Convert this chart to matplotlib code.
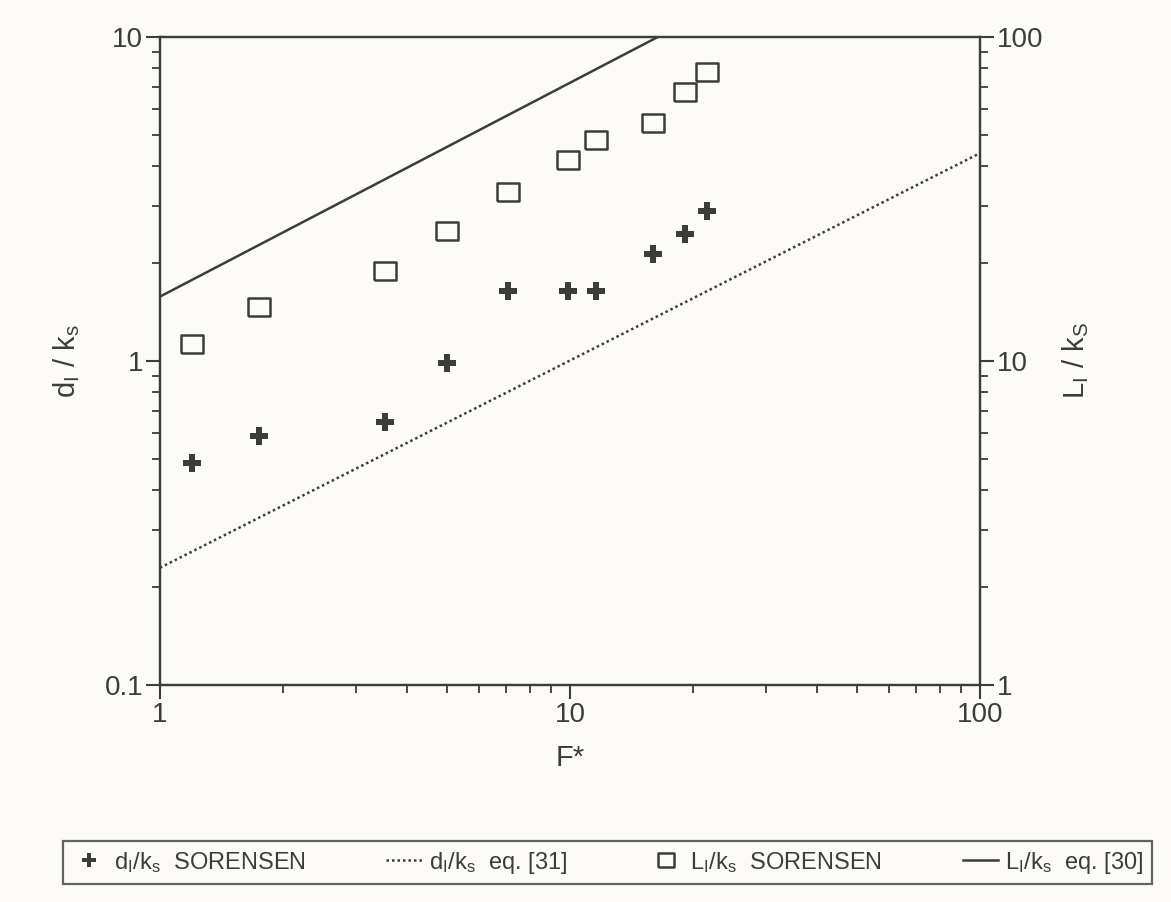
import numpy as np
import matplotlib
matplotlib.use("Agg")
import matplotlib.pyplot as plt
from matplotlib.ticker import FixedLocator, FixedFormatter, LogLocator, NullFormatter

plt.rcParams['font.family'] = ['Liberation Sans', 'DejaVu Sans']
plt.rcParams['mathtext.default'] = 'regular'

# Sorensen data
f_star = [1.20, 1.74, 3.54, 5.01, 7.06, 9.89, 11.6, 15.9, 19.1, 21.6]
d_ks = [0.485, 0.585, 0.650, 0.985, 1.65, 1.65, 1.65, 2.14, 2.47, 2.91]
l_ks = [11.3, 14.7, 19.0, 25.1, 33.3, 41.6, 48.0, 54.3, 67.8, 78.2]

# equation lines (end points)
eq31_f = [1.0, 100.0]
eq31_d = [0.23, 4.38]
eq30_f = [1.0, 100.0]
eq30_l = [15.8, 15.8 * 100 ** 0.66]

ink = '#3c3c3c'
paper = '#fcfbf7'

fig = plt.figure(figsize=(11.71, 9.02), dpi=100, facecolor=paper)
ax = fig.add_axes([0.1366, 0.2406, 0.7003, 0.7184])
ax.set_facecolor(paper)
ax2 = ax.twinx()

rect = [(-1.25, -1), (1.25, -1), (1.25, 1), (-1.25, 1), (-1.25, -1)]

h1, = ax.plot(f_star, d_ks, linestyle='none', marker='P', markersize=13,
              color=ink, markeredgewidth=0, label='d$_I$/k$_s$  SORENSEN')
h2, = ax.plot(eq31_f, eq31_d, linestyle=(0, (1, 1.2)), color=ink, linewidth=1.8,
              label='d$_I$/k$_s$  eq. [31]')
h3, = ax2.plot(f_star, l_ks, linestyle='none', marker=rect, markersize=16,
               markerfacecolor='none', markeredgecolor=ink, markeredgewidth=1.8,
               label='L$_I$/k$_s$  SORENSEN')
h4, = ax2.plot(eq30_f, eq30_l, color=ink, linewidth=1.8, label='L$_I$/k$_s$  eq. [30]')

ax.set_xscale('log')
ax.set_yscale('log')
ax2.set_yscale('log')
ax.set_xlim(1, 100)
ax.set_ylim(0.1, 10)
ax2.set_ylim(1, 100)

ax.xaxis.set_major_locator(FixedLocator([1, 10, 100]))
ax.xaxis.set_major_formatter(FixedFormatter(['1', '10', '100']))
ax.yaxis.set_major_locator(FixedLocator([0.1, 1, 10]))
ax.yaxis.set_major_formatter(FixedFormatter(['0.1', '1', '10']))
ax2.yaxis.set_major_locator(FixedLocator([1, 10, 100]))
ax2.yaxis.set_major_formatter(FixedFormatter(['1', '10', '100']))
for a in (ax.xaxis, ax.yaxis, ax2.yaxis):
    a.set_minor_locator(LogLocator(base=10, subs=np.arange(2, 10)))
    a.set_minor_formatter(NullFormatter())

for a in (ax, ax2):
    a.tick_params(which='major', direction='out', length=10, width=1.5,
                  color=ink, labelsize=20, labelcolor=ink, pad=2)
    a.tick_params(which='minor', direction='out', length=6, width=1.3, color=ink)
    for s in a.spines.values():
        s.set_color(ink)
        s.set_linewidth(1.6)
ax.tick_params(top=False, right=False)

ax.set_xlabel('F*', fontsize=21, color=ink, labelpad=12)
ax.set_ylabel('d$_I$ / k$_s$', fontsize=21, color=ink, labelpad=16)
ax2.set_ylabel('L$_I$ / k$_S$', fontsize=21, color=ink, labelpad=12, rotation=90)

leg = fig.legend(handles=[h1, h2, h3, h4], loc='lower left', ncol=4, mode='expand',
                 bbox_to_anchor=(0.0538, 0.02, 0.93, 0.05), fontsize=17,
                 frameon=True, fancybox=False, edgecolor=ink, facecolor=paper,
                 handlelength=1.5, handletextpad=0.3, columnspacing=1.0,
                 borderaxespad=0, borderpad=0.35, markerscale=0.75)
leg.get_frame().set_linewidth(1.6)
for t in leg.get_texts():
    t.set_color(ink)

fig.savefig('out.png', dpi=100, facecolor=paper)
